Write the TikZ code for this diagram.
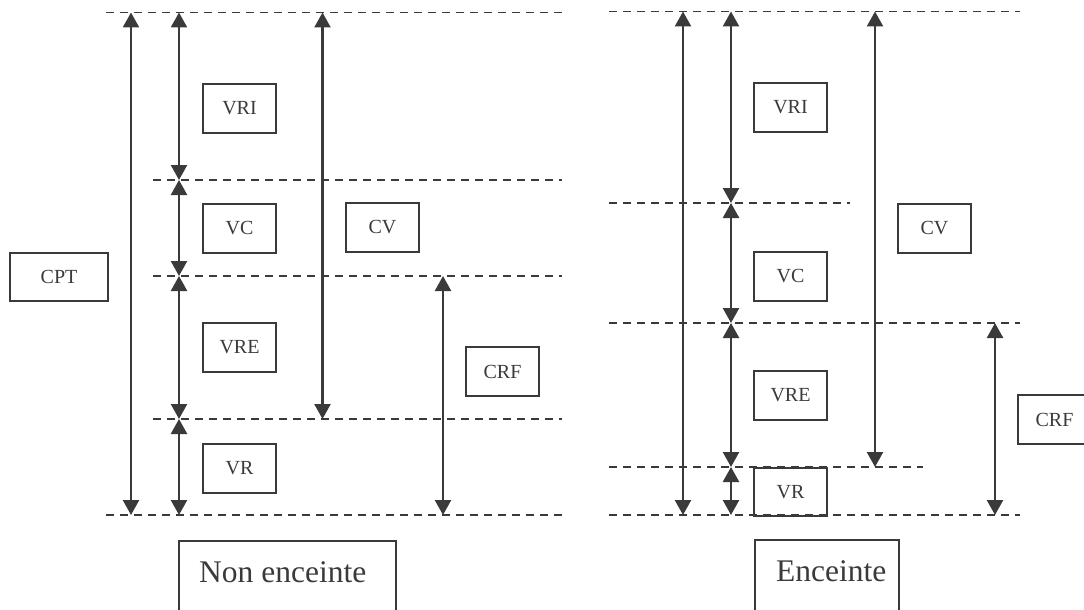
\documentclass[tikz,border=0pt]{standalone}
\usepackage{fontspec}
\setmainfont{Liberation Serif}
\usetikzlibrary{arrows.meta}
\definecolor{ink}{HTML}{3A3A3A}
\begin{document}
\begin{tikzpicture}[x=1pt,y=-1pt,
  lvl/.style={ink, line width=1.6pt, dash pattern=on 8pt off 6pt},
  dim/.style={ink, line width=2.4pt, {Triangle[length=15pt,width=16pt]}-{Triangle[length=15pt,width=16pt]}},
  lab/.style={draw=ink, line width=2pt, text=ink, minimum width=73pt, minimum height=49pt, inner sep=0pt, font=\fontsize{20}{24}\selectfont, anchor=north west},
  bigbox/.style={draw=ink, line width=2pt, inner sep=0pt, anchor=north west},
  bigtext/.style={text=ink, font=\fontsize{31.5}{36}\selectfont, anchor=base west, inner sep=0pt},
]
\useasboundingbox (0,0) rectangle (1084,610);
\clip (0,0) rectangle (1084,610);

% ---------- Left diagram (Non enceinte) ----------
\coordinate (a0s) at (106,12.5);  \coordinate (a0e) at (562,12.5);
\coordinate (a1s) at (153,180);   \coordinate (a1e) at (562,180);
\coordinate (a2s) at (153,276);   \coordinate (a2e) at (562,276);
\coordinate (a3s) at (153,419);   \coordinate (a3e) at (562,419);
\coordinate (a4s) at (106,515);   \coordinate (a4e) at (562,515);
\foreach \i in {0,...,4} \draw[lvl] (a\i s) -- (a\i e);

\coordinate (ax1) at (131,0);
\coordinate (ax2) at (179,0);
\coordinate (ax3) at (322.5,0);
\coordinate (ax4) at (443,0);
\draw[dim] (ax1 |- a0s) -- (ax1 |- a4s);
\draw[dim] (ax2 |- a0s) -- (ax2 |- a1s);
\draw[dim] (ax2 |- a1s) -- (ax2 |- a2s);
\draw[dim] (ax2 |- a2s) -- (ax2 |- a3s);
\draw[dim] (ax2 |- a3s) -- (ax2 |- a4s);
\draw[dim] (ax3 |- a0s) -- (ax3 |- a3s);
\draw[dim] (ax4 |- a2s) -- (ax4 |- a4s);

\node[lab] (lvri) at (202,83)  {VRI};
\node[lab] (lvc)  at (202,203) {VC};
\node[lab] (lcv)  at (345,202) {CV};
\node[lab] (lvre) at (202,322) {VRE};
\node[lab] (lvr)  at (202,443) {VR};
\node[lab] (lcrf) at (465,346) {CRF};
\node[lab, minimum width=98pt, minimum height=48pt] (lcpt) at (9,252) {CPT};

\node[bigbox, minimum width=217pt, minimum height=90pt] (lbox) at (178,540) {};
\node[bigtext] (ltxt) at (199,582) {Non enceinte};

% ---------- Right diagram (Enceinte) ----------
\coordinate (b0s) at (609,11.5);  \coordinate (b0e) at (1020,11.5);
\coordinate (b1s) at (609,203);   \coordinate (b1e) at (850,203);
\coordinate (b2s) at (609,323);   \coordinate (b2e) at (1020,323);
\coordinate (b3s) at (609,467);   \coordinate (b3e) at (923,467);
\coordinate (b4s) at (609,515);   \coordinate (b4e) at (1020,515);
\foreach \i in {0,...,4} \draw[lvl] (b\i s) -- (b\i e);

\coordinate (bx1) at (683,0);
\coordinate (bx2) at (731,0);
\coordinate (bx3) at (875,0);
\coordinate (bx4) at (995,0);
\draw[dim] (bx1 |- b0s) -- (bx1 |- b4s);
\draw[dim] (bx2 |- b0s) -- (bx2 |- b1s);
\draw[dim] (bx2 |- b1s) -- (bx2 |- b2s);
\draw[dim] (bx2 |- b2s) -- (bx2 |- b3s);
\draw[dim] (bx2 |- b3s) -- (bx2 |- b4s);
\draw[dim] (bx3 |- b0s) -- (bx3 |- b3s);
\draw[dim] (bx4 |- b2s) -- (bx4 |- b4s);

\node[lab] (rvri) at (753,82)  {VRI};
\node[lab] (rvc)  at (753,251) {VC};
\node[lab] (rcv)  at (897,203) {CV};
\node[lab] (rvre) at (753,370) {VRE};
\node[lab, minimum height=48pt] (rvr)  at (753,467) {VR};
\node[lab] (rcrf) at (1017,394) {CRF};

\node[bigbox, minimum width=144pt, minimum height=90pt] (rbox) at (754,539) {};
\node[bigtext] (rtxt) at (776,581) {Enceinte};
\end{tikzpicture}
\end{document}
